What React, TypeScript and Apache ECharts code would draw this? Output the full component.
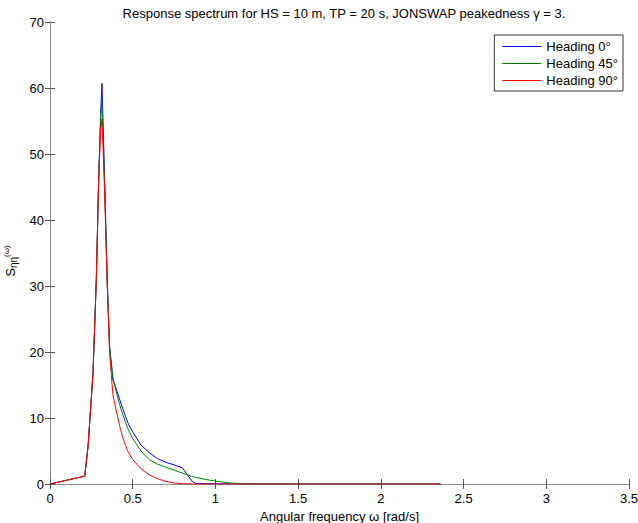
import React, { useEffect, useRef } from "react";
import * as echarts from "echarts";

const omega = [0, 0.21, 0.23, 0.26, 0.28, 0.294, 0.306, 0.314, 0.33, 0.346, 0.36, 0.38, 0.40, 0.42, 0.44, 0.47, 0.50, 0.55, 0.60, 0.65, 0.70, 0.75, 0.80, 0.83, 0.86, 0.88, 0.95, 1.0, 1.1, 1.2, 1.5, 2.0, 2.36];
const heading0 = [0, 1.2, 5.7, 16.8, 31, 46, 56, 60.7, 46.5, 31, 21, 15.8, 14.5, 12.9, 11.4, 9.3, 7.9, 5.9, 4.75, 3.85, 3.3, 2.9, 2.45, 1.4, 0.4, 0.08, 0.05, 0.04, 0.02, 0.01, 0, 0, 0];
const heading45 = [0, 1.2, 5.7, 16.8, 31, 46, 55, 58.3, 45.5, 30.5, 20.8, 16.2, 14.0, 12.1, 10.5, 8.4, 6.9, 5.0, 3.7, 3.0, 2.55, 2.1, 1.65, 1.4, 1.15, 1.0, 0.65, 0.45, 0.12, 0.03, 0, 0, 0];
const heading90 = [0, 1.2, 5.7, 16.8, 31, 46, 53.5, 55.3, 44.5, 30, 20, 13.5, 11.2, 8.9, 7.0, 5.0, 3.7, 2.3, 1.4, 0.8, 0.4, 0.15, 0.05, 0.03, 0.01, 0, 0, 0, 0, 0, 0, 0, 0];

const seriesNames = ["Heading 0°", "Heading 45°", "Heading 90°"];
const seriesColors = ["#0000ff", "#008000", "#ff0000"];
const seriesValues = [heading0, heading45, heading90];

const xTicks = [0, 0.5, 1, 1.5, 2, 2.5, 3, 3.5];
const yTicks = [0, 10, 20, 30, 40, 50, 60, 70];

const FONT = "Liberation Sans";

export default function App() {
  const ref = useRef<HTMLDivElement>(null);
  useEffect(() => {
    if (!ref.current) return;
    const chart = echarts.init(ref.current, null, { renderer: "svg" });
    const axisLine = { show: true, lineStyle: { color: "#8a8a8a", width: 1 } };
    const axisTick = { show: true, inside: true, length: 5, lineStyle: { color: "#555" } };
    const labelStyle = { color: "#000", fontFamily: FONT, fontSize: 13 };
    chart.setOption({
      animation: false,
      backgroundColor: "#fff",
      title: {
        text: "Response spectrum for HS = 10 m, TP = 20 s, JONSWAP peakedness γ = 3.",
        left: 339,
        textAlign: "center",
        top: 2,
        textStyle: { fontFamily: FONT, fontSize: 13, fontWeight: "normal", color: "#000" },
      },
      grid: { left: 50, right: 9, top: 22, bottom: 39, containLabel: false, outerBoundsMode: "none" },
      legend: {
        orient: "vertical",
        right: 15,
        top: 35,
        data: seriesNames,
        icon: "rect",
        itemWidth: 39,
        itemHeight: 1,
        itemGap: 2,
        padding: [4, 5, 3, 8],
        borderColor: "#333",
        borderWidth: 1,
        backgroundColor: "#fff",
        textStyle: { fontFamily: FONT, fontSize: 13, color: "#000", lineHeight: 15 },
      },
      xAxis: [
        {
          type: "value",
          min: 0,
          max: 3.5,
          interval: 0.5,
          position: "bottom",
          axisLine,
          axisTick,
          splitLine: { show: false },
          axisLabel: { ...labelStyle, margin: 8, formatter: (v: number) => (xTicks.includes(v) ? String(v) : "") },
          name: "Angular frequency ω [rad/s]",
          nameLocation: "middle",
          nameGap: 18,
          nameTextStyle: { fontFamily: FONT, fontSize: 13, color: "#000" },
        },
        {
          type: "value",
          min: 0,
          max: 3.5,
          interval: 0.5,
          position: "top",
          axisLine,
          axisTick,
          splitLine: { show: false },
          axisLabel: { show: false },
        },
      ],
      yAxis: [
        {
          type: "value",
          min: 0,
          max: 70,
          interval: 10,
          position: "left",
          axisLine,
          axisTick,
          splitLine: { show: false },
          axisLabel: { ...labelStyle, margin: 6, formatter: (v: number) => (yTicks.includes(v) ? String(v) : "") },
          name: "{s|S}{sub|ηη}{sup|(ω)}",
          nameLocation: "middle",
          nameGap: 29,
          nameRotate: 90,
          nameTextStyle: {
            fontFamily: FONT,
            color: "#000",
            padding: [0, 16, 0, 0],
            rich: {
              s: { fontFamily: FONT, fontSize: 13, color: "#000" },
              sub: { fontFamily: FONT, fontSize: 10, color: "#000", verticalAlign: "bottom", padding: [6, 0, 0, 0] },
              sup: { fontFamily: FONT, fontSize: 8, color: "#000", verticalAlign: "top", padding: [0, 0, 6, 0] },
            },
          },
        },
        {
          type: "value",
          min: 0,
          max: 70,
          interval: 10,
          position: "right",
          axisLine,
          axisTick,
          splitLine: { show: false },
          axisLabel: { show: false },
        },
      ],
      series: seriesNames.map((name, i) => ({
        name,
        type: "line",
        data: omega.map((w, j) => [w, seriesValues[i][j]]),
        symbol: "none",
        showSymbol: false,
        smooth: false,
        lineStyle: { color: seriesColors[i], width: 1 },
        itemStyle: { color: seriesColors[i] },
        xAxisIndex: 0,
        yAxisIndex: 0,
        z: 2 + i,
      })),
    });
    return () => chart.dispose();
  }, []);
  return <div ref={ref} style={{ width: 638, height: 523, position: "fixed", left: 0, top: 0 }} />;
}
